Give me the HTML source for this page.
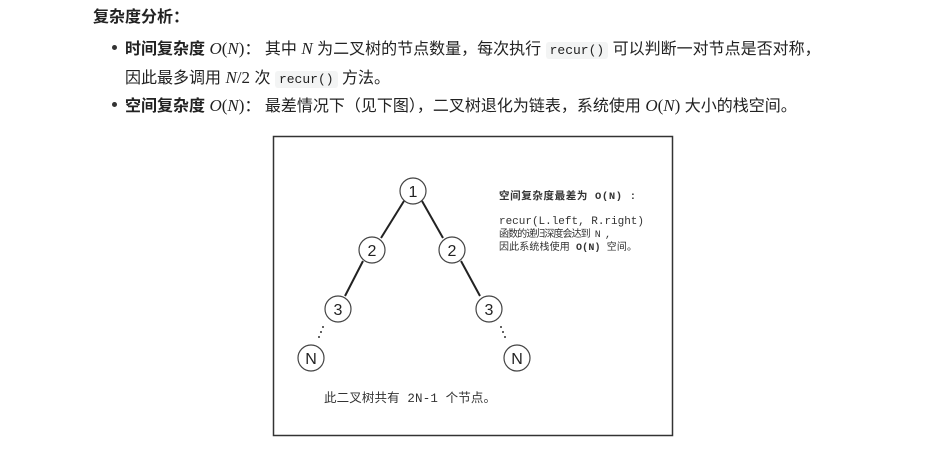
<!DOCTYPE html>
<html><head><meta charset="utf-8"><style>
body{margin:0;width:948px;height:468px;background:#fff;font-family:"Liberation Sans","Noto Sans CJK SC",sans-serif;color:#222;position:relative;overflow:hidden}
.t{position:absolute;font-size:16px;white-space:nowrap}
.m{font-family:"Liberation Serif",serif;font-style:italic;font-size:17px}
.p{font-family:"Liberation Serif",serif;font-size:17px}
code{font-family:"Liberation Mono",monospace;font-size:13px;background:#f3f4f4;border-radius:3px;padding:1px 4px}
.dot{position:absolute;width:5px;height:5px;border-radius:50%;background:#333;left:112px}
</style></head><body>
<div class="t" style="left:93px;top:3px;font-weight:bold;font-size:16px">复杂度分析：</div>
<div class="dot" style="top:45px"></div>
<div class="t" style="left:125px;top:35px"><b>时间复杂度</b> <span class="m">O</span><span class="p">(</span><span class="m">N</span><span class="p">)</span>： 其中 <span class="m">N</span> 为二叉树的节点数量，每次执行 <code>recur()</code> 可以判断一对节点是否对称，</div>
<div class="t" style="left:125px;top:64px">因此最多调用 <span class="m">N</span><span class="p">/2</span> 次 <code>recur()</code> 方法。</div>
<div class="dot" style="top:102px"></div>
<div class="t" style="left:125px;top:92px"><b>空间复杂度</b> <span class="m">O</span><span class="p">(</span><span class="m">N</span><span class="p">)</span>： 最差情况下（见下图），二叉树退化为链表，系统使用 <span class="m">O</span><span class="p">(</span><span class="m">N</span><span class="p">)</span> 大小的栈空间。</div>
<svg style="position:absolute;left:0;top:0" width="948" height="468">
<rect x="273.5" y="136.5" width="399" height="299" fill="#fff" stroke="#333" stroke-width="1.5"/>
<g stroke="#222" stroke-width="2">
<line x1="404" y1="201" x2="381" y2="238"/><line x1="422" y1="201" x2="443" y2="238"/>
<line x1="363" y1="261" x2="345" y2="296"/><line x1="461" y1="261" x2="480" y2="296"/>
</g>
<g fill="#fff" stroke="#444" stroke-width="1.2">
<circle cx="413" cy="191" r="13"/><circle cx="372" cy="250" r="13"/><circle cx="452" cy="250" r="13"/>
<circle cx="338" cy="309" r="13"/><circle cx="489" cy="309" r="13"/><circle cx="311" cy="358" r="13"/><circle cx="517" cy="358" r="13"/>
</g>
<g font-family="Liberation Sans,sans-serif" font-size="16" text-anchor="middle" fill="#222">
<text x="413" y="197">1</text><text x="372" y="256">2</text><text x="452" y="256">2</text>
<text x="338" y="315">3</text><text x="489" y="315">3</text><text x="311" y="364">N</text><text x="517" y="364">N</text>
</g>
<g fill="#333"><circle cx="323" cy="327" r="1"/><circle cx="321" cy="332" r="1"/><circle cx="319" cy="337" r="1"/>
<circle cx="501" cy="327" r="1"/><circle cx="503" cy="332" r="1"/><circle cx="505" cy="337" r="1"/></g>
<g font-family="Liberation Mono,Noto Sans CJK SC,monospace" fill="#333">
<text x="499" y="199" font-size="10.5" font-weight="bold" textLength="137">空间复杂度最差为 O(N) :</text>
<text x="499" y="224" font-size="11" textLength="145">recur(L.left, R.right)</text>
<text x="499" y="237" font-size="10" textLength="112">函数的递归深度会达到 N ,</text>
<text x="499" y="250" font-size="10" textLength="138">因此系统栈使用 <tspan font-weight="bold">O(N)</tspan> 空间。</text>
<text x="324" y="402" font-size="12.5" textLength="172">此二叉树共有 2N-1 个节点。</text>
</g>
</svg>
</body></html>
